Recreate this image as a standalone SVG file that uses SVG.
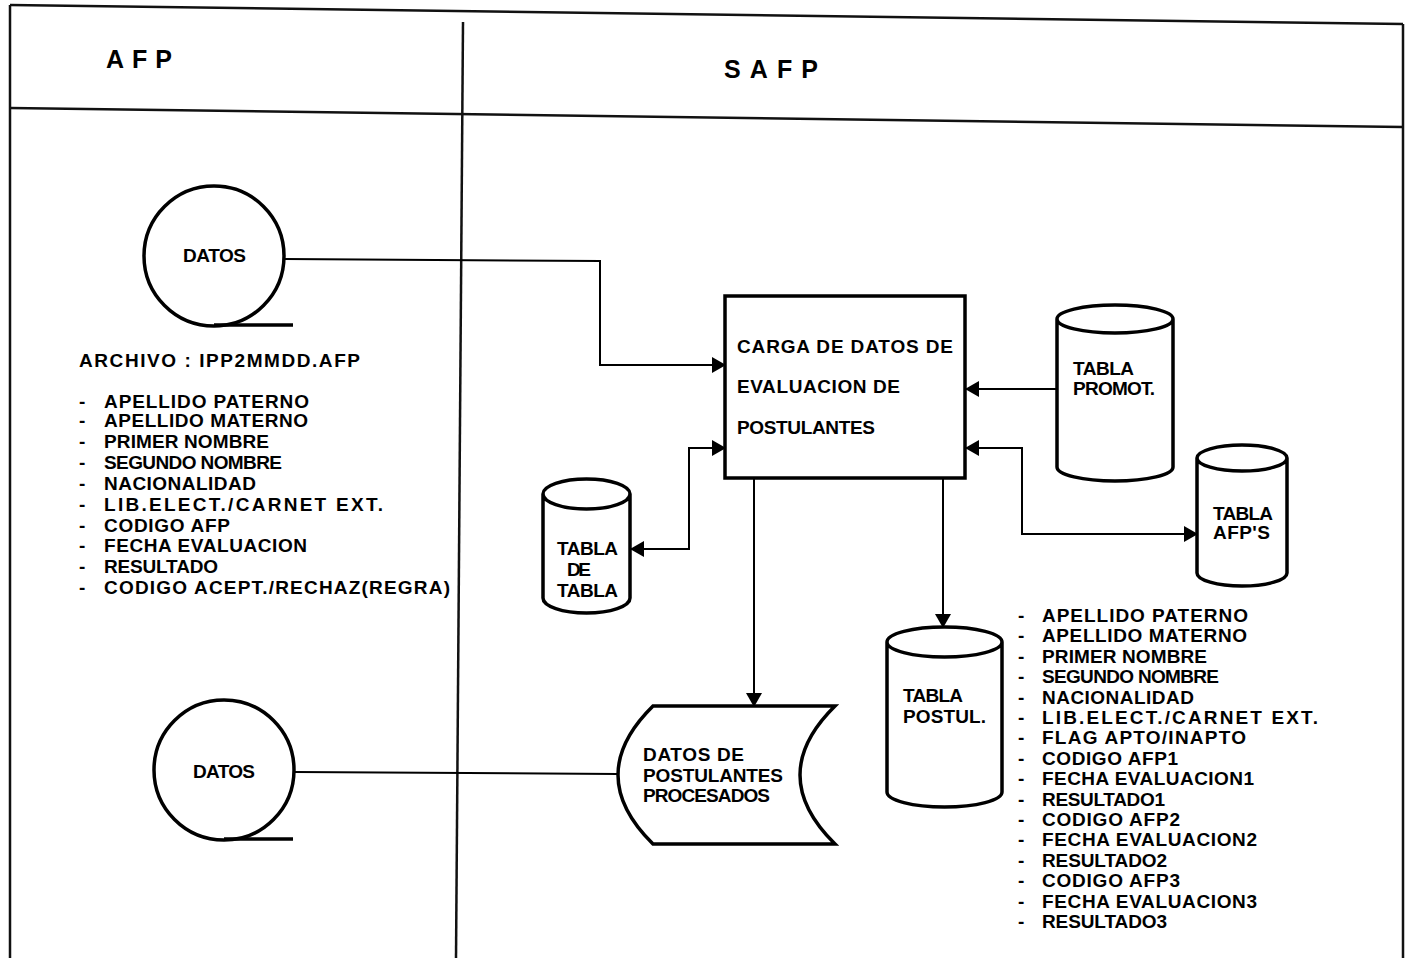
<svg xmlns="http://www.w3.org/2000/svg" width="1407" height="958" viewBox="0 0 1407 958">
<style>
.frame{fill:none;stroke:#111;stroke-width:2.5}
.shape{fill:#fff;stroke:#000;stroke-width:3.5}
.conn{fill:none;stroke:#000;stroke-width:2}
text{font-family:"Liberation Sans","DejaVu Sans",sans-serif;font-weight:bold;font-size:19px;fill:#000}
.hdr{font-size:25px}
</style>
<defs>
<marker id="arr" markerUnits="userSpaceOnUse" markerWidth="14" markerHeight="16" refX="13" refY="8" orient="auto-start-reverse">
<path d="M0,0 L14,8 L0,16 Z" fill="#000"/>
</marker>
</defs>
<rect x="0" y="0" width="1407" height="958" fill="#fff"/>
<g id="frame">
<line class="frame" x1="10" y1="5" x2="1403" y2="24"/>
<line class="frame" x1="10" y1="108" x2="1403" y2="127"/>
<line class="frame" x1="10" y1="5" x2="10" y2="958"/>
<line class="frame" x1="1403" y1="24" x2="1403" y2="958"/>
<line class="frame" x1="463" y1="22" x2="456" y2="958" stroke-width="2"/>
<text class="hdr" x="106" y="68" textLength="66" lengthAdjust="spacing">AFP</text>
<text class="hdr" x="724" y="78" textLength="94" lengthAdjust="spacing">SAFP</text>
</g>
<g id="connectors">
<polyline class="conn" points="285,259 600,261 600,365 725,365" marker-end="url(#arr)"/>
<line class="conn" x1="1057" y1="389" x2="966" y2="389" marker-end="url(#arr)"/>
<polyline class="conn" points="966,448 1022,448 1022,534 1197,534" marker-start="url(#arr)" marker-end="url(#arr)"/>
<polyline class="conn" points="725,448 689,448 689,549 631,549" marker-start="url(#arr)" marker-end="url(#arr)"/>
<line class="conn" x1="754" y1="478" x2="754" y2="706" marker-end="url(#arr)"/>
<line class="conn" x1="943" y1="478" x2="943" y2="627" marker-end="url(#arr)"/>
<line class="conn" x1="295" y1="772" x2="618" y2="774"/>
</g>
<g id="datos-top">
<circle class="shape" cx="214" cy="256" r="70"/>
<line class="shape" x1="214" y1="325" x2="293" y2="325" stroke-width="3"/>
<text x="183" y="262" textLength="63" lengthAdjust="spacing" font-size="18">DATOS</text>
</g>
<g id="archivo-list">
<text x="79" y="367" textLength="281" lengthAdjust="spacing">ARCHIVO : IPP2MMDD.AFP</text>
<g>
<text x="79" y="408">-</text><text x="104" y="408" textLength="205" lengthAdjust="spacing">APELLIDO PATERNO</text>
<text x="79" y="427">-</text><text x="104" y="427" textLength="204" lengthAdjust="spacing">APELLIDO MATERNO</text>
<text x="79" y="448">-</text><text x="104" y="448" textLength="165" lengthAdjust="spacing">PRIMER NOMBRE</text>
<text x="79" y="469">-</text><text x="104" y="469" textLength="178" lengthAdjust="spacing">SEGUNDO NOMBRE</text>
<text x="79" y="490">-</text><text x="104" y="490" textLength="152" lengthAdjust="spacing">NACIONALIDAD</text>
<text x="79" y="511">-</text><text x="104" y="511" textLength="279" lengthAdjust="spacing">LIB.ELECT./CARNET EXT.</text>
<text x="79" y="532">-</text><text x="104" y="532" textLength="126" lengthAdjust="spacing">CODIGO AFP</text>
<text x="79" y="552">-</text><text x="104" y="552" textLength="203" lengthAdjust="spacing">FECHA EVALUACION</text>
<text x="79" y="573">-</text><text x="104" y="573" textLength="114" lengthAdjust="spacing">RESULTADO</text>
<text x="79" y="594">-</text><text x="104" y="594" textLength="346" lengthAdjust="spacing">CODIGO ACEPT./RECHAZ(REGRA)</text>
</g>
</g>
<g id="carga-box">
<rect class="shape" x="725" y="296" width="240" height="182" stroke-width="4"/>
<text x="737" y="353" textLength="216" lengthAdjust="spacing">CARGA DE DATOS DE</text>
<text x="737" y="393" textLength="163" lengthAdjust="spacing">EVALUACION DE</text>
<text x="737" y="434" textLength="138" lengthAdjust="spacing">POSTULANTES</text>
</g>
<g id="tabla-promot">
<path class="shape" d="M1057,319 A58,14 0 0 1 1173,319 A58,14 0 0 1 1057,319 L1057,467 A58,14 0 0 0 1173,467 L1173,319"/>
<text x="1073" y="375" textLength="61" lengthAdjust="spacing">TABLA</text>
<text x="1073" y="395" textLength="82" lengthAdjust="spacing">PROMOT.</text>
</g>
<g id="tabla-afps">
<path class="shape" d="M1197,458 A45,13 0 0 1 1287,458 A45,13 0 0 1 1197,458 L1197,573 A45,13 0 0 0 1287,573 L1287,458"/>
<text x="1213" y="520" textLength="60" lengthAdjust="spacing">TABLA</text>
<text x="1213" y="539" textLength="57" lengthAdjust="spacing">AFP'S</text>
</g>
<g id="tabla-de-tabla">
<path class="shape" d="M543,494 A43.5,15 0 0 1 630,494 A43.5,15 0 0 1 543,494 L543,598 A43.5,15 0 0 0 630,598 L630,494"/>
<text x="557" y="555" textLength="61" lengthAdjust="spacing">TABLA</text>
<text x="567" y="576" textLength="24" lengthAdjust="spacing">DE</text>
<text x="557" y="597" textLength="61" lengthAdjust="spacing">TABLA</text>
</g>
<g id="tabla-postul">
<path class="shape" d="M887,642 A57.5,15 0 0 1 1002,642 A57.5,15 0 0 1 887,642 L887,792 A57.5,15 0 0 0 1002,792 L1002,642"/>
<text x="903" y="702" textLength="60" lengthAdjust="spacing">TABLA</text>
<text x="903" y="723" textLength="83" lengthAdjust="spacing">POSTUL.</text>
</g>
<g id="postul-list">
<text x="1018" y="622">-</text><text x="1042" y="622" textLength="206" lengthAdjust="spacing">APELLIDO PATERNO</text>
<text x="1018" y="642">-</text><text x="1042" y="642" textLength="205" lengthAdjust="spacing">APELLIDO MATERNO</text>
<text x="1018" y="663">-</text><text x="1042" y="663" textLength="165" lengthAdjust="spacing">PRIMER NOMBRE</text>
<text x="1018" y="683">-</text><text x="1042" y="683" textLength="177" lengthAdjust="spacing">SEGUNDO NOMBRE</text>
<text x="1018" y="704">-</text><text x="1042" y="704" textLength="152" lengthAdjust="spacing">NACIONALIDAD</text>
<text x="1018" y="724">-</text><text x="1042" y="724" textLength="276" lengthAdjust="spacing">LIB.ELECT./CARNET EXT.</text>
<text x="1018" y="744">-</text><text x="1042" y="744" textLength="204" lengthAdjust="spacing">FLAG APTO/INAPTO</text>
<text x="1018" y="765">-</text><text x="1042" y="765" textLength="136" lengthAdjust="spacing">CODIGO AFP1</text>
<text x="1018" y="785">-</text><text x="1042" y="785" textLength="212" lengthAdjust="spacing">FECHA EVALUACION1</text>
<text x="1018" y="806">-</text><text x="1042" y="806" textLength="123" lengthAdjust="spacing">RESULTADO1</text>
<text x="1018" y="826">-</text><text x="1042" y="826" textLength="138" lengthAdjust="spacing">CODIGO AFP2</text>
<text x="1018" y="846">-</text><text x="1042" y="846" textLength="215" lengthAdjust="spacing">FECHA EVALUACION2</text>
<text x="1018" y="867">-</text><text x="1042" y="867" textLength="125" lengthAdjust="spacing">RESULTADO2</text>
<text x="1018" y="887">-</text><text x="1042" y="887" textLength="138" lengthAdjust="spacing">CODIGO AFP3</text>
<text x="1018" y="908">-</text><text x="1042" y="908" textLength="215" lengthAdjust="spacing">FECHA EVALUACION3</text>
<text x="1018" y="928">-</text><text x="1042" y="928" textLength="125" lengthAdjust="spacing">RESULTADO3</text>
</g>
<g id="datos-procesados">
<path class="shape" d="M653,706 L835,706 Q765,775 835,844 L653,844 Q583,775 653,706 Z"/>
<text x="643" y="761" textLength="101" lengthAdjust="spacing">DATOS DE</text>
<text x="643" y="782" textLength="140" lengthAdjust="spacing">POSTULANTES</text>
<text x="643" y="802" textLength="127" lengthAdjust="spacing">PROCESADOS</text>
</g>
<g id="datos-bottom">
<circle class="shape" cx="224" cy="770" r="70"/>
<line class="shape" x1="224" y1="839" x2="293" y2="839" stroke-width="3"/>
<text x="193" y="778" textLength="62" lengthAdjust="spacing" font-size="18">DATOS</text>
</g>
</svg>
